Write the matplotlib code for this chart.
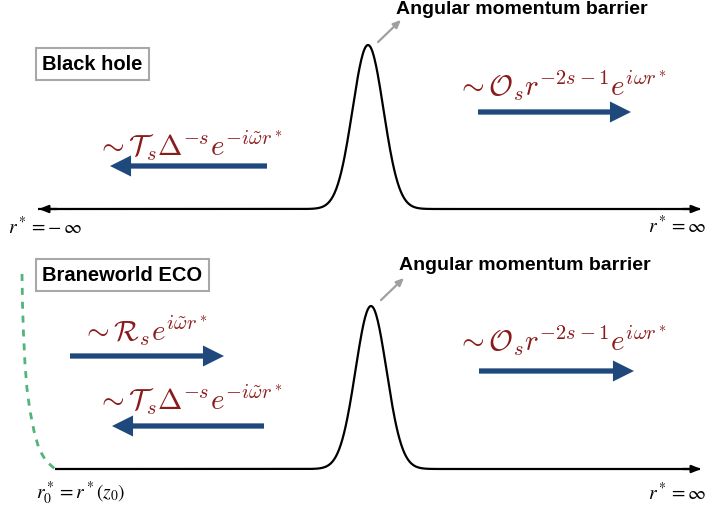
import numpy as np
import matplotlib
matplotlib.use('Agg')
import matplotlib.pyplot as plt

# 図のサイズ (ピクセル座標で描く)
W, H = 707, 510

# ポテンシャル障壁 (ピクセル座標で読んだ値)
top_base_y = 210
top_peak_x, top_peak_h = 368, 164
bot_base_y = 470
bot_peak_x, bot_peak_h = 371, 163
barrier_sigma = 15.5
top_x_range = (38, 700)
bot_x_range = (55, 700)

# 緑の破線 (反射面)
green_x = [22, 22.5, 23.5, 25, 27, 30, 34, 39, 46, 55]
green_y = [275, 305, 335, 365, 390, 412, 432, 450, 462, 470]

# 青い矢印 (始点x, 終点x, y)
blue_arrows = [
    (267, 110, 167),
    (478, 631, 113),
    (70, 224, 357),
    (264, 112, 427),
    (479, 634, 372),
]

# 数式ラベル (x左端, y中心, テキスト)
wave_labels = [
    (96, 146, r'$\sim \mathcal{T}_s\Delta^{-s}e^{-i\tilde{\omega}r^*}$'),
    (456, 86, r'$\sim \mathcal{O}_s r^{-2s-1}e^{i\omega r^*}$'),
    (81, 331, r'$\sim \mathcal{R}_s e^{i\tilde{\omega}r^*}$'),
    (96, 400, r'$\sim \mathcal{T}_s\Delta^{-s}e^{-i\tilde{\omega}r^*}$'),
    (456, 341, r'$\sim \mathcal{O}_s r^{-2s-1}e^{i\omega r^*}$'),
]

red = '#8b1a1a'
blue = '#1f497d'
green = '#52b47a'

fig = plt.figure(figsize=(W / 100, H / 100), dpi=100)
ax = fig.add_axes([0, 0, 1, 1])
ax.set_xlim(0, W)
ax.set_ylim(H, 0)
ax.axis('off')


def barrier(x0, x1, base, cx, h):
    xs = np.linspace(x0, x1, 800)
    ys = base - h * np.exp(-(xs - cx) ** 2 / (2 * barrier_sigma ** 2))
    return xs, ys


xs, ys = barrier(*top_x_range, top_base_y, top_peak_x, top_peak_h)
ax.plot(xs, ys, color='black', lw=1.6, solid_capstyle='butt')
xs, ys = barrier(*bot_x_range, bot_base_y, bot_peak_x, bot_peak_h)
ax.plot(xs, ys, color='black', lw=1.6, solid_capstyle='butt')

# 軸の矢じり
head = dict(arrowstyle='-|>,head_length=0.55,head_width=0.22', color='black', lw=1.6)
ax.annotate('', xy=(36, top_base_y), xytext=(60, top_base_y), arrowprops=head)
ax.annotate('', xy=(704, top_base_y), xytext=(680, top_base_y), arrowprops=head)
ax.annotate('', xy=(704, bot_base_y), xytext=(680, bot_base_y), arrowprops=head)

# 緑の破線
ax.plot(green_x, green_y, color=green, lw=2, dashes=(2.5, 2.5))

# 障壁を指す灰色の矢印
gray = dict(arrowstyle='-|>,head_length=0.45,head_width=0.2', color='#a0a0a0', lw=1.6)
ax.annotate('', xy=(403, 19), xytext=(376, 45), arrowprops=gray)
ax.annotate('', xy=(406, 277), xytext=(379, 303), arrowprops=gray)
ax.text(396, 10, 'Angular momentum barrier', fontsize=14, fontweight='bold',
        family='Liberation Sans', va='center', ha='left')
ax.text(399, 266, 'Angular momentum barrier', fontsize=14, fontweight='bold',
        family='Liberation Sans', va='center', ha='left')

# ラベルの箱
box = dict(boxstyle='square,pad=0.32', fc='white', ec='#a8a8a8', lw=1.5)
ax.text(42, 65, 'Black hole', fontsize=14.5, fontweight='bold', family='Liberation Sans',
        va='center', ha='left', bbox=box)
ax.text(42, 276, 'Braneworld ECO', fontsize=14.5, fontweight='bold', family='Liberation Sans',
        va='center', ha='left', bbox=box)

# 青い矢印
for x0, x1, y in blue_arrows:
    ax.annotate('', xy=(x1, y), xytext=(x0, y),
                arrowprops=dict(arrowstyle='-|>,head_length=0.9,head_width=0.45',
                                color=blue, lw=3.8, shrinkA=0, shrinkB=0,
                                joinstyle='miter', capstyle='butt'))

for x, y, s in wave_labels:
    ax.text(x, y, s, color=red, fontsize=21, math_fontfamily='cm', va='center', ha='left')

# 端のラベル
ax.text(8, 227, r'$r^* = -\,\infty$', fontsize=14, math_fontfamily='stix', va='center', ha='left')
ax.text(706, 226, r'$r^* = \infty$', fontsize=14, math_fontfamily='stix', va='center', ha='right')
ax.text(36, 493, r'$r_0^* = r^*(z_0)$', fontsize=14, math_fontfamily='stix', va='center', ha='left')
ax.text(706, 493, r'$r^* = \infty$', fontsize=14, math_fontfamily='stix', va='center', ha='right')

fig.savefig('out.png', dpi=100)
